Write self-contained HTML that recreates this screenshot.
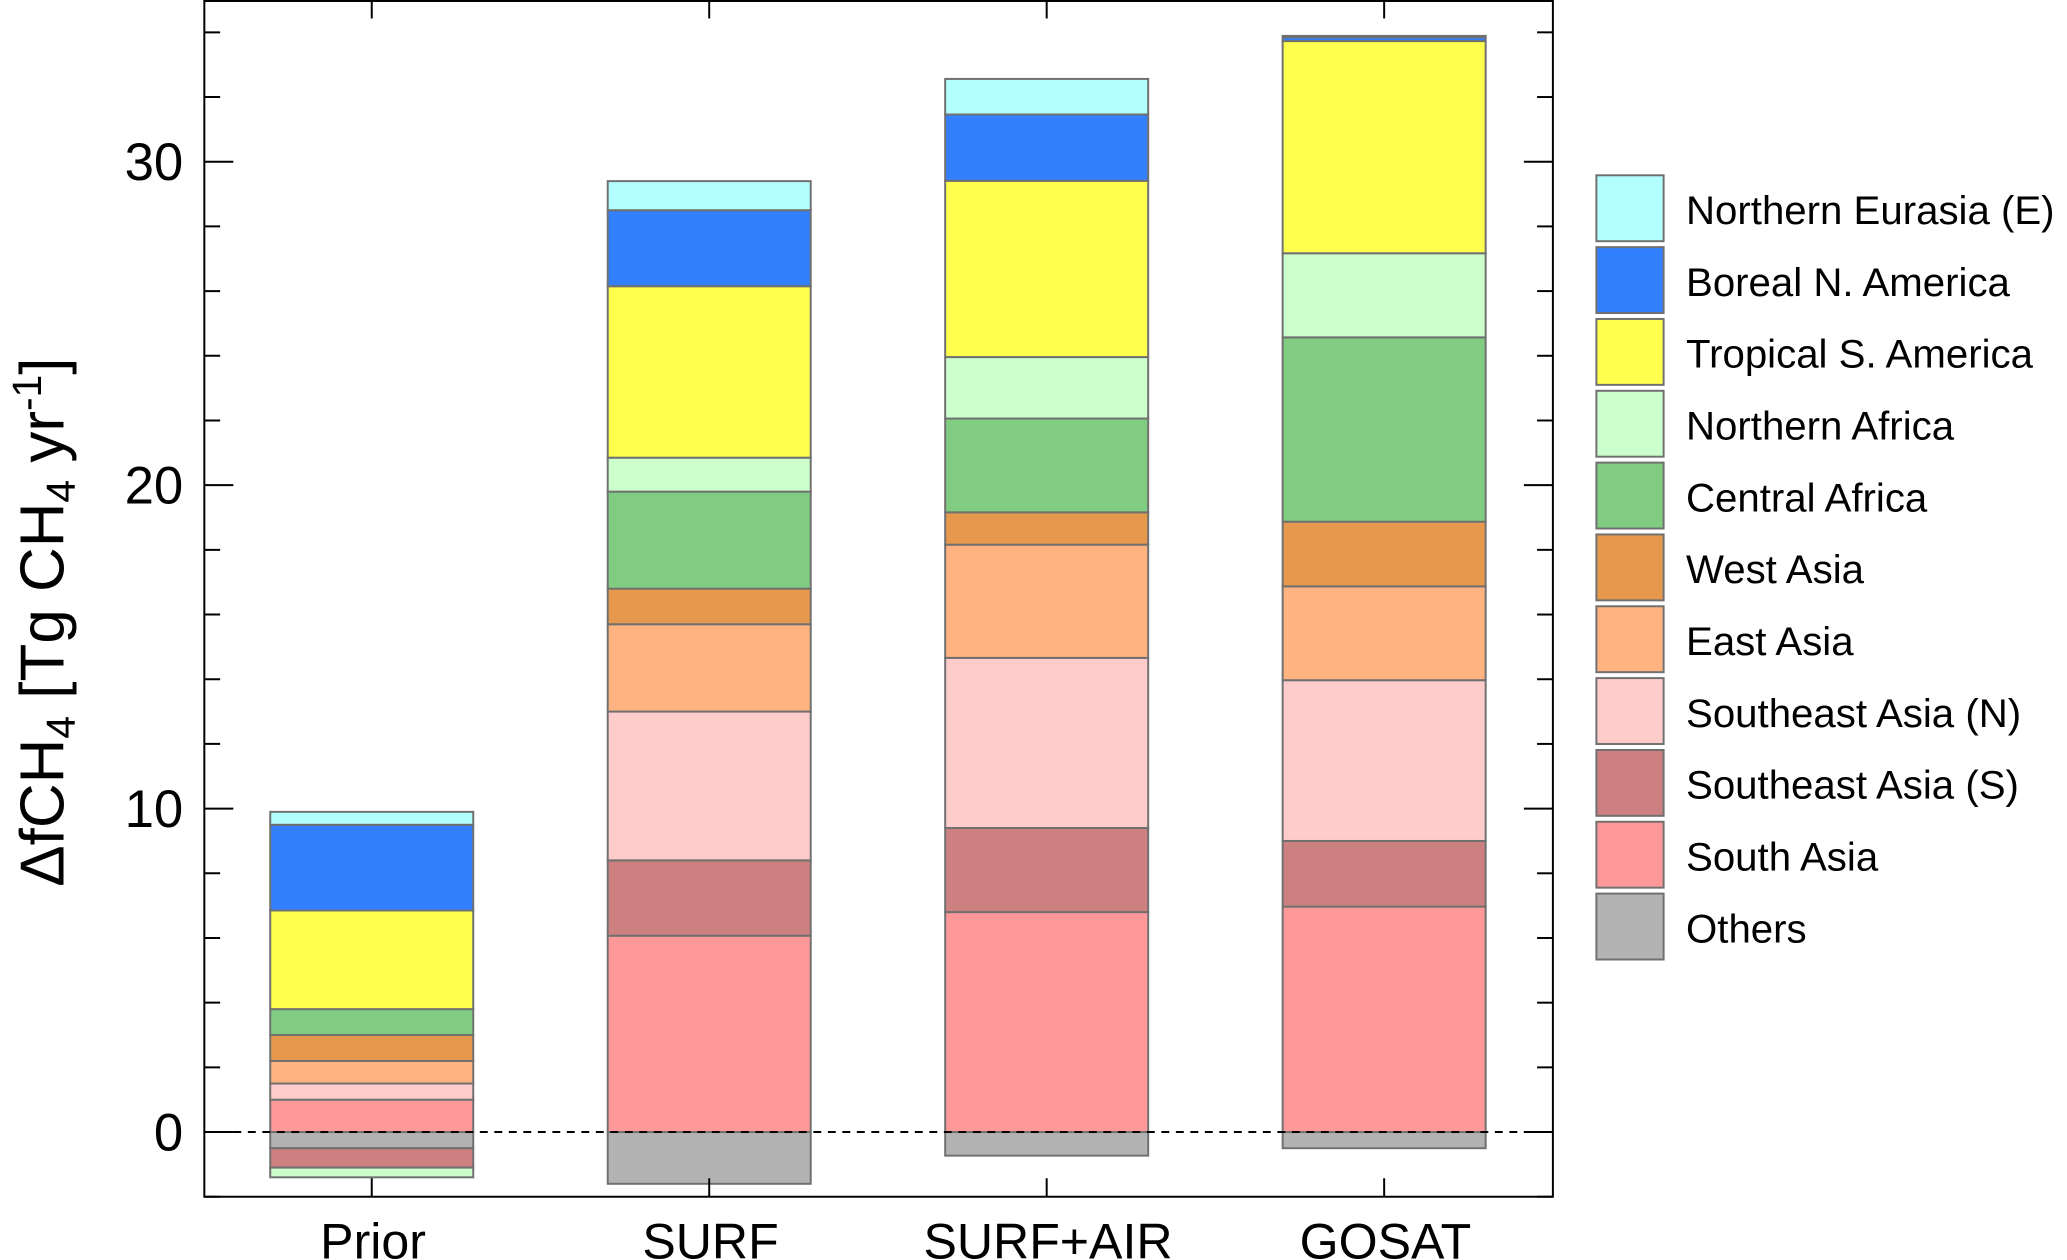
<!DOCTYPE html>
<html><head><meta charset="utf-8"><style>
html,body{margin:0;padding:0;background:#fff;}
svg{display:block;font-family:"Liberation Sans",Arial,sans-serif;}
</style></head><body>
<svg id="chart" width="2067" height="1260" viewBox="0 0 1568 956" preserveAspectRatio="none" xmlns="http://www.w3.org/2000/svg">
<g id="plot"></g>
</svg>
<script>
const categories = ["Prior","SURF","SURF+AIR","GOSAT"];
const regions = ["Others","South Asia","Southeast Asia (S)","Southeast Asia (N)","East Asia","West Asia","Central Africa","Northern Africa","Tropical S. America","Boreal N. America","Northern Eurasia (E)"];
const colors = ["#b3b3b3","#ff9999","#cc8080","#ffcccc","#ffb380","#e6994d","#80cc80","#ccffcc","#ffff4d","#3380ff","#b3ffff"];
const valPrior   = [-0.5, 1.0, -0.6, 0.5, 0.7, 0.8, 0.8, -0.3, 3.05, 2.65, 0.4];
const valSurf    = [-1.6, 6.07, 2.33, 4.6, 2.7, 1.1, 3.0, 1.05, 5.3, 2.35, 0.9];
const valSurfAir = [-0.73, 6.8, 2.6, 5.26, 3.5, 1.0, 2.9, 1.9, 5.45, 2.05, 1.1];
const valGosat   = [-0.5, 6.97, 2.03, 4.97, 2.9, 2.0, 5.7, 2.6, 6.56, 0.12, 0.04];
const series = [valPrior, valSurf, valSurfAir, valGosat];
const yTicks = [0,10,20,30];
const legendOrder = ["Northern Eurasia (E)","Boreal N. America","Tropical S. America","Northern Africa","Central Africa","West Asia","East Asia","Southeast Asia (N)","Southeast Asia (S)","South Asia","Others"];

const NS="http://www.w3.org/2000/svg";
const g=document.getElementById('plot');
const L=155,R=1178,T=0,B=908,yMin=-2,yMax=35;
const y=v=>B-(v-yMin)/(yMax-yMin)*(B-T);
const xC=i=>282+i*256;
const bw=154;
function mk(tag,attrs,txt){const e=document.createElementNS(NS,tag);for(const k in attrs)e.setAttribute(k,attrs[k]);if(txt!==undefined)e.textContent=txt;g.appendChild(e);return e;}

series.forEach((vals,ci)=>{
  let pos=0,neg=0;
  vals.forEach((v,ri)=>{
    let y0,y1;
    if(v>=0){y0=pos;y1=pos+v;pos=y1;}else{y0=neg+v;y1=neg;neg=y0;}
    const r=mk('rect',{x:xC(ci)-bw/2,y:y(y1),width:bw,height:Math.max(0,y(y0)-y(y1)),fill:colors[ri],stroke:'#707070','stroke-width':1.5});
    
    
  });
});
const zl=mk('line',{x1:L,x2:R,y1:y(0),y2:y(0),stroke:'#000','stroke-width':1.5,'stroke-dasharray':'6,5'});


const fr=mk('rect',{x:L,y:T+0.75,width:R-L,height:B-T-0.75,fill:'none',stroke:'#000','stroke-width':1.5});


for(let v=-2;v<=34;v+=2){
  const major=yTicks.includes(v);const len=major?22:12;
  mk('line',{x1:L,x2:L+len,y1:y(v),y2:y(v),stroke:'#000','stroke-width':1.5});
  mk('line',{x1:R,x2:R-len,y1:y(v),y2:y(v),stroke:'#000','stroke-width':1.5});
}
yTicks.forEach(v=>{
  const t=mk('text',{x:139,y:y(v)+14,'text-anchor':'end','font-size':40},String(v));
  
  
});
categories.forEach((c,i)=>{
  mk('line',{x1:xC(i),x2:xC(i),y1:B,y2:B-14,stroke:'#000','stroke-width':1.5});
  mk('line',{x1:xC(i),x2:xC(i),y1:T,y2:T+14,stroke:'#000','stroke-width':1.5});
  const t=mk('text',{x:xC(i)+1,y:955,'text-anchor':'middle','font-size':38},c);
  
  
});
const yt=document.createElementNS(NS,'text');
yt.setAttribute('transform','translate(48,472) rotate(-90)');
yt.setAttribute('text-anchor','middle');yt.setAttribute('font-size',47);
yt.innerHTML='ΔfCH<tspan font-size="31" dy="9">4</tspan><tspan dy="-9"> [Tg CH</tspan><tspan font-size="31" dy="9">4</tspan><tspan dy="-9"> yr</tspan><tspan font-size="31" dy="-17">-1</tspan><tspan dy="17">]</tspan>';


g.appendChild(yt);
legendOrder.forEach((name,k)=>{
  const ri=regions.indexOf(name);const yy=133+k*54.5;
  const r=mk('rect',{x:1211,y:yy,width:51,height:50,fill:colors[ri],stroke:'#707070','stroke-width':1.5});
  
  
  const t=mk('text',{x:1279,y:yy+37,'font-size':30.5},name);
  
  
});
</script>
</body></html>
